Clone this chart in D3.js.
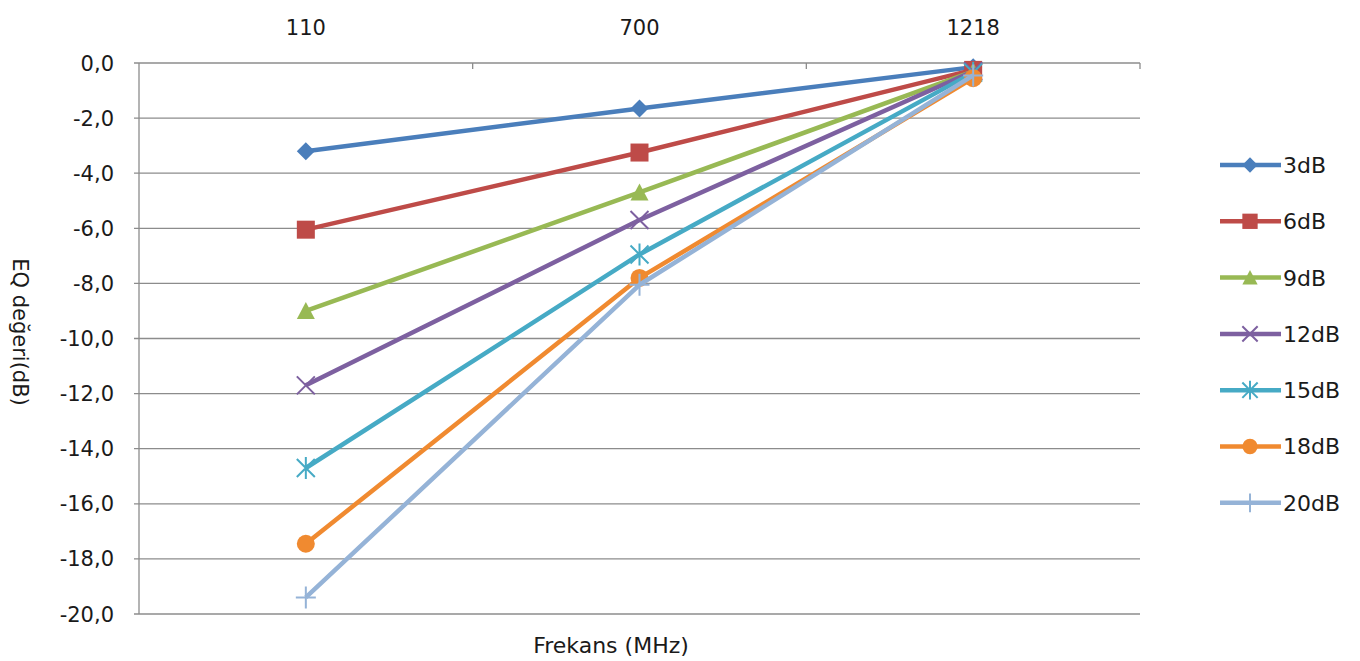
<!DOCTYPE html>
<html><head><meta charset="utf-8">
<script src="https://cdn.jsdelivr.net/npm/d3@7"></script>
<style>html,body{margin:0;padding:0;background:#fff;}svg{display:block;font-family:"DejaVu Sans",sans-serif;}</style>
</head><body>
<svg id="c" width="1360" height="661"></svg>
<script>
const categories = ["110", "700", "1218"];
const seriesNames = ["3dB", "6dB", "9dB", "12dB", "15dB", "18dB", "20dB"];
const s3 = [-3.2, -1.65, -0.15];
const s6 = [-6.05, -3.25, -0.25];
const s9 = [-9.0, -4.7, -0.3];
const s12 = [-11.7, -5.7, -0.3];
const s15 = [-14.7, -6.95, -0.35];
const s18 = [-17.45, -7.8, -0.55];
const s20 = [-19.4, -8.05, -0.45];
const yTicks = [0, -2, -4, -6, -8, -10, -12, -14, -16, -18, -20];
const colors = ["#4A7EBB", "#BE4B48", "#98B954", "#7D60A0", "#46AAC5", "#F08A30", "#95B3D7"];
const markers = ["diamond", "square", "triangle", "x", "star", "circle", "plus"];
const series = [s3, s6, s9, s12, s15, s18, s20].map((v, i) => ({name: seriesNames[i], values: v, color: colors[i], marker: markers[i]}));

const svg = d3.select("#c");
const L = 139, R = 1140, T = 63, B = 614;
const x = d3.scaleBand().domain(categories).range([L, R]);
const y = d3.scaleLinear().domain([-20, 0]).range([B, T]);
const fmt = d => d3.format(".1f")(d).replace(".", ",").replace("−", "-");
const txt = "#1a1a1a";

// gridlines
svg.append("g").selectAll("line").data(yTicks).join("line")
  .attr("x1", L - 5).attr("x2", R).attr("y1", d => y(d)).attr("y2", d => y(d))
  .attr("stroke", "#8c8c8c").attr("stroke-width", 1.3);
// left axis line
svg.append("line").attr("x1", L).attr("x2", L).attr("y1", T).attr("y2", B).attr("stroke", "#8c8c8c").attr("stroke-width", 1.3);
// top axis ticks between categories
const bounds = categories.map(c => x(c)).slice(1).concat([R]);
svg.append("g").selectAll("line").data(bounds).join("line")
  .attr("x1", d => d).attr("x2", d => d).attr("y1", T).attr("y2", T + 6)
  .attr("stroke", "#8c8c8c").attr("stroke-width", 1.3);

// y labels
svg.append("g").selectAll("text").data(yTicks).join("text")
  .attr("x", 114).attr("y", d => y(d)).attr("dy", "0.36em").attr("text-anchor", "end")
  .attr("font-size", 21).attr("fill", txt).text(fmt);
// x labels (top)
svg.append("g").selectAll("text").data(categories).join("text")
  .attr("x", d => x(d) + x.bandwidth() / 2).attr("y", 35).attr("text-anchor", "middle")
  .attr("font-size", 21).attr("fill", txt).text(d => d);

// titles
svg.append("text").attr("x", 611).attr("y", 653).attr("text-anchor", "middle").attr("font-size", 22).attr("fill", txt).text("Frekans (MHz)");
svg.append("text").attr("transform", "translate(13,332) rotate(90)").attr("text-anchor", "middle").attr("font-size", 21).attr("fill", txt).text("EQ değeri(dB)");

const cx = c => x(c) + x.bandwidth() / 2;
const line = d3.line().x((d, i) => cx(categories[i])).y(d => y(d));

function drawMarker(g, type, color, px, py, s) {
  const sz = s || 1;
  if (type === "diamond") g.append("path").attr("d", `M${px},${py-9*sz}L${px+9*sz},${py}L${px},${py+9*sz}L${px-9*sz},${py}Z`).attr("fill", color);
  else if (type === "square") g.append("rect").attr("x", px-9*sz).attr("y", py-9*sz).attr("width", 18*sz).attr("height", 18*sz).attr("fill", color);
  else if (type === "triangle") g.append("path").attr("d", `M${px},${py-9*sz}L${px+9*sz},${py+8*sz}L${px-9*sz},${py+8*sz}Z`).attr("fill", color);
  else if (type === "circle") g.append("circle").attr("cx", px).attr("cy", py).attr("r", 9*sz).attr("fill", color);
  else if (type === "x") g.append("path").attr("d", `M${px-9*sz},${py-9*sz}L${px+9*sz},${py+9*sz}M${px+9*sz},${py-9*sz}L${px-9*sz},${py+9*sz}`).attr("stroke", color).attr("stroke-width", 2);
  else if (type === "star") g.append("path").attr("d", `M${px-9*sz},${py-9*sz}L${px+9*sz},${py+9*sz}M${px+9*sz},${py-9*sz}L${px-9*sz},${py+9*sz}M${px},${py-11*sz}L${px},${py+11*sz}`).attr("stroke", color).attr("stroke-width", 2);
  else if (type === "plus") g.append("path").attr("d", `M${px-10*sz},${py}L${px+10*sz},${py}M${px},${py-11*sz}L${px},${py+11*sz}`).attr("stroke", color).attr("stroke-width", 2);
}

const sg = svg.append("g");
series.forEach(s => {
  sg.append("path").datum(s.values).attr("d", line).attr("fill", "none")
    .attr("stroke", s.color).attr("stroke-width", 4.5).attr("stroke-linejoin", "round");
  s.values.forEach((v, i) => drawMarker(sg, s.marker, s.color, cx(categories[i]), y(v)));
});

// legend
const lg = svg.append("g");
series.forEach((s, i) => {
  const ly = 165 + i * 56.3;
  lg.append("line").attr("x1", 1220).attr("x2", 1281).attr("y1", ly).attr("y2", ly).attr("stroke", s.color).attr("stroke-width", 4.5);
  drawMarker(lg, s.marker, s.color, 1250, ly, 0.85);
  lg.append("text").attr("x", 1283).attr("y", ly).attr("dy", "0.36em").attr("font-size", 22).attr("fill", txt).text(s.name);
});
</script>
</body></html>
